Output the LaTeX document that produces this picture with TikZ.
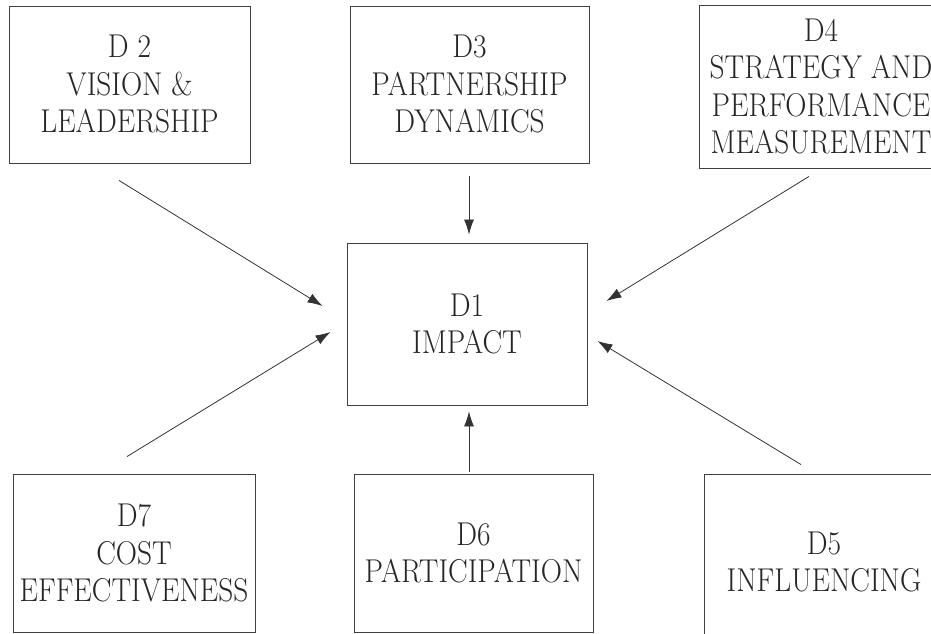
\documentclass[tikz,border=0pt]{standalone}
\usepackage{fontspec}
\setmainfont{Latin Modern Roman}[FakeStretch=0.89]
\usetikzlibrary{arrows.meta}
\tikzset{
  dimbox/.style={draw=black!75, line width=0.9pt, inner sep=0pt, align=center,
    text=black!85, font=\fontsize{33}{37.5}\selectfont,
    minimum width=240pt, minimum height=158pt},
  feed/.style={draw=black!80, line width=0.8pt, -{Latex[length=15pt,width=10pt]}}
}
\begin{document}
\begin{tikzpicture}[x=1pt,y=1pt]
        \useasboundingbox (0,0) rectangle (931,634);
        \clip (0,0) rectangle (931,634);

        % centre box
        \node[dimbox, minimum height=162pt] (d1) at (467,310) {D1\\IMPACT};

        % top row
        \node[dimbox, minimum width=241pt, minimum height=157pt] (d2) at (129.5,549.5) {D 2\\VISION \&\\LEADERSHIP};
        \node[dimbox, minimum width=239pt, minimum height=157pt] (d3) at (469.5,549.5) {D3\\PARTNERSHIP\\DYNAMICS};
        \node[dimbox, minimum width=244pt, minimum height=163pt] (d4) at (821,547.5) {D4\\STRATEGY AND\\PERFORMANCE\\MEASUREMENT};

        % bottom row
        \node[dimbox, minimum width=242pt] (d7) at (134,81) {D7\\COST\\EFFECTIVENESS};
        \node[dimbox, minimum width=239pt] (d6) at (473.5,81) {D6\\PARTICIPATION};
        \node[dimbox, minimum height=176pt] (d5) at (824,72) {D5\\INFLUENCING};

        % arrows into D1
        \draw[feed] ([shift={(-10.5,-17)}]d2.south) -- ([shift={(-24,18)}]d1.west);
        \draw[feed] ([shift={(-0.5,-13)}]d3.south) -- ([shift={(2,8)}]d1.north);
        \draw[feed] ([shift={(-12,-8)}]d4.south) -- ([shift={(19,23)}]d1.east);
        \draw[feed] ([shift={(-7,17)}]d7.north) -- ([shift={(-16,-8)}]d1.west);
        \draw[feed] ([shift={(-4.5,2)}]d6.north) -- ([shift={(2,-6)}]d1.south);
        \draw[feed] ([shift={(-23,9)}]d5.north) -- ([shift={(10,-17)}]d1.east);
\end{tikzpicture}
\end{document}
